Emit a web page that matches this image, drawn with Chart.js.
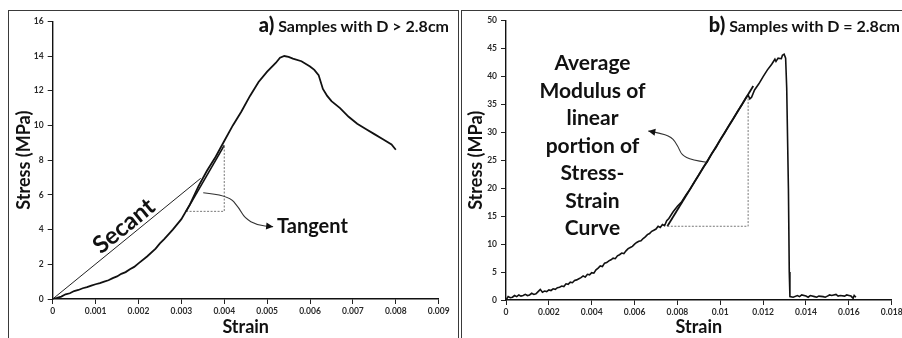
<!DOCTYPE html>
<html>
<head>
<meta charset="utf-8">
<script src="https://cdn.jsdelivr.net/npm/chart.js@4.4.0/dist/chart.umd.min.js"></script>
<style>
  html,body{margin:0;padding:0;background:#fff;}
  body{width:902px;height:338px;position:relative;overflow:hidden;font-family:Lato,sans-serif;}
  .frame{position:absolute;border:1.5px solid #3a3a3a;border-bottom:none;box-sizing:border-box;}
  #frameA{left:8px;top:10px;width:451px;height:340px;}
  #frameB{left:461px;top:10px;width:470px;height:340px;}
  canvas{position:absolute;top:0;}
  #chartA{left:0;}
  #chartB{left:460px;}
  .ptitle{position:absolute;top:14px;font-weight:bold;font-size:16px;line-height:20px;color:#111;white-space:nowrap;}
  .ptitle b{font-size:20px;}
  #titleA{right:453px;}
  #titleB{right:2px;}
</style>
</head>
<body>
<div class="frame" id="frameA"></div>
<div class="frame" id="frameB"></div>
<canvas id="chartA" width="460" height="338"></canvas>
<canvas id="chartB" width="450" height="338"></canvas>
<div class="ptitle" id="titleA"><b>a)</b> Samples with D &gt; 2.8cm</div>
<div class="ptitle" id="titleB"><b>b)</b> Samples with D = 2.8cm</div>
<script>
// ---- panel a: samples with D > 2.8cm ----
const strainA = [0,0.0001,0.0002,0.0003,0.0004,0.0005,0.0006,0.0007,0.0008,0.0009,0.001,0.0011,0.0012,0.0013,0.0014,0.0015,0.0016,0.0017,0.0018,0.0019,0.002,0.0022,0.0024,0.0025,0.0026,0.0028,0.003,0.0032,0.0034,0.0036,0.0038,0.004,0.0042,0.0044,0.0046,0.0048,0.005,0.0052,0.0053,0.0054,0.0055,0.0056,0.0058,0.006,0.0061,0.0062,0.0063,0.0064,0.0065,0.0067,0.0069,0.0071,0.0073,0.0075,0.0077,0.0079,0.008];
const stressA = [0,0.06,0.14,0.27,0.33,0.46,0.52,0.62,0.68,0.77,0.85,0.92,1.0,1.08,1.2,1.3,1.45,1.55,1.72,1.85,2.05,2.45,2.9,3.2,3.45,4.0,4.6,5.45,6.5,7.4,8.2,9.1,10.0,10.8,11.7,12.5,13.1,13.6,13.9,14.0,13.95,13.85,13.7,13.4,13.2,12.9,12.1,11.7,11.4,11.0,10.5,10.1,9.8,9.5,9.2,8.9,8.6];
const secantStrain = [0, 0.00345];
const secantStress = [0, 6.95];
const tangentStrain = [0.00311, 0.004];
const tangentStress = [5.05, 8.85];
const arrowAStrain = [0.00351, 0.00409, 0.00435, 0.00448, 0.00476, 0.00514];
const arrowAStress = [6.12, 5.99, 5.22, 4.65, 4.26, 4.16];
const ticksA = {xMax: 0.009, xStep: 0.001, yMax: 16, yStep: 2};

// ---- panel b: samples with D = 2.8cm ----
const strainB = [0,0.0001,0.0002,0.0003,0.0004,0.0005,0.0006,0.0007,0.0008,0.0009,0.001,0.0011,0.0012,0.0013,0.0014,0.0015,0.0016,0.0017,0.0018,0.0019,0.002,0.0021,0.0022,0.0023,0.0024,0.0025,0.0026,0.0027,0.0028,0.0029,0.003,0.0031,0.0032,0.0033,0.0034,0.0035,0.0036,0.0037,0.0038,0.0039,0.004,0.0041,0.0042,0.0043,0.0044,0.0045,0.0046,0.0047,0.0048,0.0049,0.005,0.0051,0.0052,0.0053,0.0054,0.0055,0.0056,0.0057,0.0058,0.0059,0.006,0.0061,0.0062,0.0063,0.0064,0.0065,0.0066,0.0067,0.0068,0.0069,0.007,0.0071,0.0072,0.0073,0.0074,0.0075,0.0076,0.0078,0.008,0.0082,0.0084,0.0086,0.0088,0.009,0.0092,0.0094,0.0096,0.0098,0.01,0.0102,0.0104,0.0106,0.0108,0.011,0.0112,0.0113,0.01138,0.01146,0.0116,0.0118,0.012,0.0122,0.0124,0.01255,0.0126,0.0127,0.01285,0.0129,0.01298,0.01305,0.0131,0.01318,0.01322,0.01325,0.0134,0.0136,0.0137,0.0138,0.014,0.0141,0.0142,0.0144,0.0145,0.0146,0.0148,0.0149,0.015,0.0151,0.0152,0.0154,0.0155,0.0156,0.0158,0.0159,0.016,0.0161,0.0162,0.01625,0.01633];
const stressB = [0,0.6,0.4,0.5,0.8,0.6,0.9,0.7,0.8,1.0,0.8,0.9,1.2,1.0,1.1,1.5,1.9,1.4,1.6,1.5,1.8,1.7,2.0,1.9,2.2,2.3,2.5,2.4,2.9,2.8,3.2,3.1,3.5,3.6,3.8,4.0,4.3,4.1,4.6,4.5,4.9,4.8,5.4,5.7,6.1,6.0,6.6,6.7,7.0,7.2,7.5,7.4,7.9,8.1,8.4,8.3,8.8,9.2,9.4,9.6,10.0,10.3,10.5,10.6,11.0,11.3,11.7,11.9,12.3,12.5,12.7,13.2,13.0,13.5,13.3,14.2,14.6,15.8,16.8,17.6,18.8,19.9,21.2,22.4,23.7,24.8,26.2,27.3,28.7,29.9,31.2,32.4,33.7,34.9,36.2,36.7,36.0,36.3,37.6,38.7,40.0,41.2,42.2,43.1,42.7,43.3,43.2,43.8,44.0,43.3,38,20,5,0.6,0.5,0.8,0.6,0.9,0.7,0.5,0.8,0.6,0.5,0.7,0.6,0.5,0.7,0.9,0.8,1.0,0.7,0.8,0.7,0.9,0.8,0.7,0.3,0.8,0.5];
const fitStrain = [0.00753, 0.01154];
const fitStress = [13.2, 38.3];
const triBStrain = [0.00753, 0.0113, 0.0113];
const triBStress = [13.2, 13.2, 36.5];
const arrowBStrain = [0.00936, 0.00866, 0.0082, 0.00804, 0.00773, 0.00711, 0.00664];
const arrowBStress = [24.65, 25.06, 25.95, 27.44, 29.23, 29.94, 30.25];
const noteBLines = ["Average", "Modulus of", "linear", "portion of", "Stress-", "Strain", "Curve"];
const ticksB = {xMax: 0.018, xStep: 0.002, yMax: 50, yStep: 5};

const FONT = "Lato";
const pts = (xs, ys) => xs.map((x, i) => ({x, y: ys[i]}));

// draws arrows and labels in data space
const notesPlugin = {
  id: "notes",
  afterDatasetsDraw(chart, args, opts) {
    const ctx = chart.ctx, sx = chart.scales.x, sy = chart.scales.y;
    const px = v => sx.getPixelForValue(v), py = v => sy.getPixelForValue(v);
    ctx.save();
    (opts.arrows || []).forEach(a => {
      const p = a.strain.map((s, i) => [px(s), py(a.stress[i])]);
      ctx.strokeStyle = "#333"; ctx.lineWidth = 1.1;
      ctx.beginPath();
      ctx.moveTo(p[0][0], p[0][1]);
      for (let i = 1; i < p.length - 1; i++) {
        const mx = (p[i][0] + p[i+1][0]) / 2, my = (p[i][1] + p[i+1][1]) / 2;
        ctx.quadraticCurveTo(p[i][0], p[i][1], mx, my);
      }
      const e = p[p.length-1], b = p[p.length-2];
      ctx.lineTo(e[0], e[1]);
      ctx.stroke();
      const ang = Math.atan2(e[1] - b[1], e[0] - b[0]);
      ctx.fillStyle = "#111";
      ctx.beginPath();
      ctx.moveTo(e[0], e[1]);
      ctx.lineTo(e[0] - 7*Math.cos(ang) + 3.5*Math.sin(ang), e[1] - 7*Math.sin(ang) - 3.5*Math.cos(ang));
      ctx.lineTo(e[0] - 7*Math.cos(ang) - 3.5*Math.sin(ang), e[1] - 7*Math.sin(ang) + 3.5*Math.cos(ang));
      ctx.closePath(); ctx.fill();
    });
    (opts.labels || []).forEach(l => {
      ctx.save();
      ctx.fillStyle = "#111";
      ctx.font = "bold " + l.size + "px " + FONT;
      ctx.textAlign = l.align || "left";
      ctx.textBaseline = l.baseline || "alphabetic";
      ctx.translate(px(l.strain), py(l.stress));
      if (l.along) {
        const a = l.along;
        ctx.rotate(Math.atan2(py(a.stress[1]) - py(a.stress[0]), px(a.strain[1]) - px(a.strain[0])));
      }
      const lines = Array.isArray(l.text) ? l.text : [l.text];
      lines.forEach((t, i) => ctx.fillText(t, 0, i * (l.lead || 0)));
      ctx.restore();
    });
    ctx.restore();
  }
};

function fmtStrain(v) {
  return v === 0 ? "0" : String(+v.toFixed(3));
}

function makeOptions(t, yWidth, padLeft, padTop, padRight, xHeight, extra) {
  const tickFont = {family: FONT, size: 8.5, weight: "bold"};
  const titleFont = {family: FONT, size: 18, weight: "bold"};
  return {
    responsive: false,
    animation: false,
    layout: {padding: {left: padLeft, top: padTop, right: padRight, bottom: 0}},
    plugins: {legend: {display: false}, tooltip: {enabled: false}, notes: extra},
    elements: {point: {radius: 0}, line: {tension: 0}},
    scales: {
      x: {
        type: "linear", min: 0, max: t.xMax,
        afterFit: s => { s.height = xHeight; },
        ticks: {stepSize: t.xStep, autoSkip: false, maxRotation: 0, color: "#2a2a2a", font: tickFont, padding: 2, callback: fmtStrain},
        grid: {drawOnChartArea: false, drawTicks: true, tickLength: 5, color: "#222", lineWidth: 1},
        border: {display: true, color: "#111", width: 1.4},
        title: {display: true, text: "Strain", color: "#111", font: titleFont, padding: {top: 0, bottom: 0}}
      },
      y: {
        type: "linear", min: 0, max: t.yMax,
        afterFit: s => { s.width = yWidth; },
        ticks: {stepSize: t.yStep, autoSkip: false, color: "#2a2a2a", font: tickFont, padding: 4},
        grid: {drawOnChartArea: false, drawTicks: true, tickLength: 5, color: "#222", lineWidth: 1},
        border: {display: true, color: "#111", width: 1.4},
        title: {display: true, text: "Stress (MPa)", color: "#111", font: titleFont, padding: {top: 0, bottom: 0}}
      }
    }
  };
}

new Chart(document.getElementById("chartA"), {
  type: "scatter",
  data: {
    datasets: [
      {data: pts(strainA, stressA), showLine: true, borderColor: "#111", borderWidth: 1.8},
      {data: pts(secantStrain, secantStress), showLine: true, borderColor: "#222", borderWidth: 1},
      {data: pts([tangentStrain[0], tangentStrain[1], tangentStrain[1]], [tangentStress[0], tangentStress[0], tangentStress[1]]),
        showLine: true, borderColor: "#777", borderWidth: 1, borderDash: [2, 1.5]},
      {data: pts(tangentStrain, tangentStress), showLine: true, borderColor: "#111", borderWidth: 1.6}
    ]
  },
  options: makeOptions(ticksA, 39, 13.7, 21.3, 21.3, 39, {
    arrows: [{strain: arrowAStrain, stress: arrowAStress}],
    labels: [
      {text: "Tangent", strain: 0.00523, stress: 3.78, size: 20},
      {text: "Secant", strain: 0.00166, stress: 4.2, size: 24, align: "center", baseline: "middle",
        along: {strain: secantStrain, stress: secantStress}}
    ]
  }),
  plugins: [notesPlugin]
});

new Chart(document.getElementById("chartB"), {
  type: "scatter",
  data: {
    datasets: [
      {data: pts(strainB, stressB), showLine: true, borderColor: "#111", borderWidth: 1.6},
      {data: pts(triBStrain, triBStress), showLine: true, borderColor: "#777", borderWidth: 1, borderDash: [2, 1.5]},
      {data: pts(fitStrain, fitStress), showLine: true, borderColor: "#111", borderWidth: 1.8}
    ]
  },
  options: makeOptions(ticksB, 41, 5, 20.7, 18.3, 38, {
    arrows: [{strain: arrowBStrain, stress: arrowBStress}],
    labels: [
      {text: noteBLines, strain: 0.004036, stress: 41.17, size: 21, align: "center", lead: 27.5}
    ]
  }),
  plugins: [notesPlugin]
});
</script>
</body>
</html>
